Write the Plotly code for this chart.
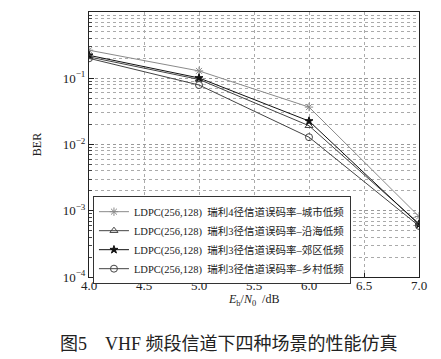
import plotly.graph_objects as go

ebn0 = [4.0, 5.0, 6.0, 7.0]
ber_city = [0.265, 0.129, 0.0367, 0.00082]
ber_coast = [0.21, 0.096, 0.0192, 0.00064]
ber_suburb = [0.222, 0.101, 0.0226, 0.00062]
ber_rural = [0.200, 0.079, 0.0129, 0.00059]

names = [
    "LDPC(256,128)  瑞利4径信道误码率–城市低频",
    "LDPC(256,128)  瑞利3径信道误码率–沿海低频",
    "LDPC(256,128)  瑞利3径信道误码率–郊区低频",
    "LDPC(256,128)  瑞利3径信道误码率–乡村低频",
]
series = [ber_city, ber_coast, ber_suburb, ber_rural]
colors = ["#8a8a8a", "#444444", "#111111", "#444444"]
symbols = ["asterisk-open", "triangle-up-open", "star", "circle-open"]
sizes = [7, 7, 6, 7]

minor_vals = [m * 10.0 ** e for e in range(-4, 0) for m in range(2, 10)]

fig = go.Figure()
for name, ys, c, s, sz in zip(names, series, colors, symbols, sizes):
    fig.add_trace(go.Scatter(
        x=ebn0, y=ys, mode="lines+markers", name=name,
        line=dict(color=c, width=1),
        marker=dict(symbol=s, size=sz, color=c, line=dict(color=c, width=1)),
    ))

serif = "Liberation Serif, Noto Sans CJK SC"
fig.update_layout(
    width=433, height=351,
    margin=dict(l=81, r=22, t=4, b=82),
    paper_bgcolor="white", plot_bgcolor="white",
    font=dict(family=serif, size=12, color="#222"),
    showlegend=True,
    legend=dict(
        x=0.012, y=0.305, xanchor="left", yanchor="top",
        bgcolor="white", bordercolor="#333", borderwidth=1,
        font=dict(family=serif, size=10.5, color="#222"),
        tracegroupgap=0, itemwidth=30,
    ),
    xaxis=dict(
        range=[4.0, 7.0], dtick=0.5, tickformat=".1f",
        automargin=False,
        showline=True, linecolor="#222", linewidth=1, mirror=True,
        ticks="inside", ticklen=4, tickcolor="#222",
        showgrid=True, gridcolor="#aaa", griddash="dot", gridwidth=1,
        zeroline=False,
        tickfont=dict(size=13),
        ticklabelstandoff=-4,
    ),
    yaxis=dict(
        type="log", range=[-4, 0],
        automargin=False,
        tickvals=[1e-4, 1e-3, 1e-2, 1e-1, 1],
        ticktext=["10<sup>−4</sup>", "10<sup>−3</sup>", "10<sup>−2</sup>",
                  "10<sup>−1</sup>", "10<sup>0</sup>"],
        showline=True, linecolor="#222", linewidth=1, mirror=True,
        ticks="inside", ticklen=5, tickcolor="#222",
        showgrid=True, gridcolor="#999", griddash="dot", gridwidth=1,
        minor=dict(tickmode="array", tickvals=minor_vals,
                   showgrid=True, gridcolor="#aaa", griddash="dot",
                   ticks="inside", ticklen=3, tickcolor="#444"),
        zeroline=False,
        title=dict(text="BER", font=dict(size=12), standoff=18),
        tickfont=dict(size=13),
    ),
)

fig.add_annotation(
    text="<i>E</i><sub>b</sub>/<i>N</i><sub>0</sub>  /dB",
    xref="paper", yref="paper", x=0.497, y=-0.085,
    xanchor="center", yanchor="middle", showarrow=False,
    font=dict(family=serif, size=12, color="#222"),
)

fig.add_annotation(
    text="图5　VHF 频段信道下四种场景的性能仿真",
    xref="paper", yref="paper", x=0.424, y=-0.252,
    xanchor="center", yanchor="middle", showarrow=False,
    font=dict(family="Liberation Serif, Noto Sans CJK SC", size=18, color="#222"),
)

fig.write_html("out.html")
